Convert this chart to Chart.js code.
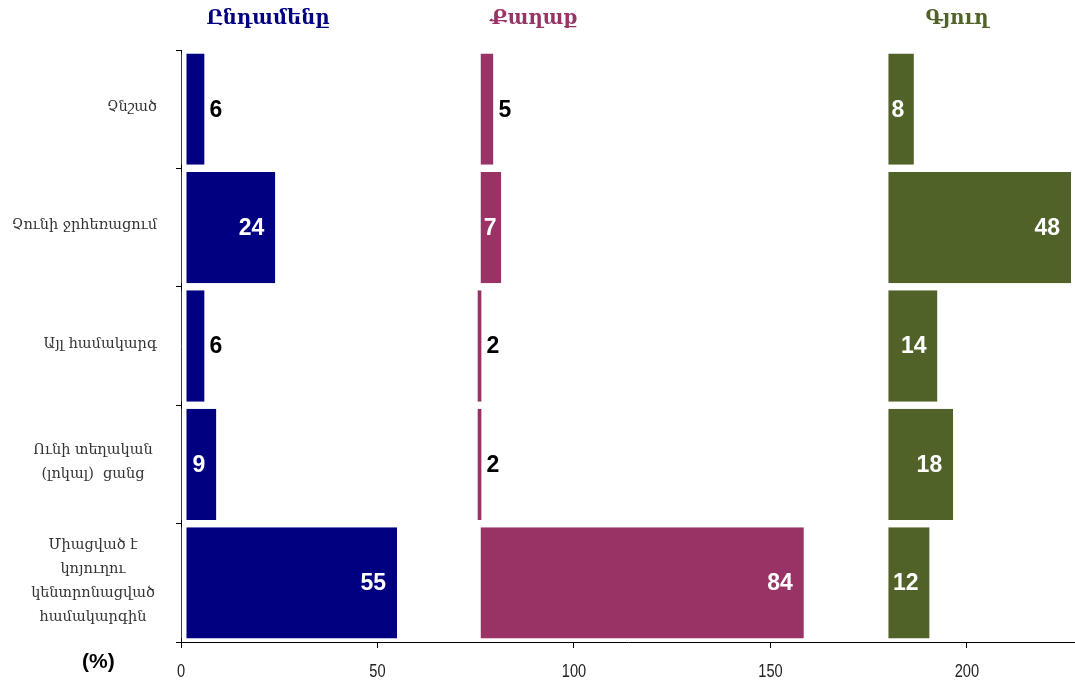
<!DOCTYPE html>
<html>
<head>
<meta charset="utf-8">
<script src="https://cdn.jsdelivr.net/npm/chart.js@4.4.1/dist/chart.umd.min.js"></script>
<style>
  html, body { margin: 0; padding: 0; background: #fff; overflow: hidden; }
  #wrap { width: 1075px; height: 682px; position: relative; }
</style>
</head>
<body>
<div id="wrap"><canvas id="c"></canvas></div>
<script>
// ---- data ----
const categories = [
  ["Չնշած"],
  ["Չունի ջրհեռացում"],
  ["Այլ համակարգ"],
  ["Ունի տեղական", "(լոկալ)  ցանց"],
  ["Միացված է", "կոյուղու", "կենտրոնացված", "համակարգին"]
];
const totalValues = [6, 24, 6, 9, 55];
const cityValues  = [5, 7, 2, 2, 84];
const ruralValues = [8, 48, 14, 18, 12];
const groupTitles = ["Ընդամենը", "Քաղաք", "Գյուղ"];
const xTickValues = [0, 50, 100, 150, 200];
const unitLabel = "(%)";

// panel offsets (axis units) where the city / rural panels start
const cityBase = 74.5;
const ruralBase = 178.5;

const colors = { total: "#000080", city: "#993366", rural: "#506228" };

const spacer1 = totalValues.map(v => cityBase - v);
const spacer2 = cityValues.map(v => ruralBase - cityBase - v);

const barCommon = {
  borderColor: "#ffffff",
  borderSkipped: false,
  barPercentage: 0.94,
  categoryPercentage: 1.0
};

const labelsPlugin = {
  id: "customText",
  afterDraw(chart) {
    const ctx = chart.ctx;
    const yScale = chart.scales.y;
    const xScale = chart.scales.x;
    ctx.save();
    // group titles
    const titleX = [268, 534, 957];
    const titleColors = [colors.total, colors.city, colors.rural];
    ctx.font = "bold 19.5px 'DejaVu Serif'";
    ctx.textAlign = "center";
    ctx.textBaseline = "middle";
    groupTitles.forEach((t, i) => {
      ctx.fillStyle = titleColors[i];
      ctx.fillText(t, titleX[i], 19);
    });
    // category labels
    ctx.fillStyle = "#333333";
    ctx.font = "14.5px 'DejaVu Serif'";
    const lh = 24;
    categories.forEach((lines, i) => {
      const cy = yScale.getPixelForValue(i);
      const n = lines.length;
      lines.forEach((ln, k) => {
        const y = cy + (k - (n - 1) / 2) * lh;
        if (n === 1) { ctx.textAlign = "right"; ctx.fillText(ln, 157, y - 2); }
        else { ctx.textAlign = "center"; ctx.fillText(ln, 93, y - 2); }
      });
    });
    // x tick labels (condensed)
    ctx.fillStyle = "#222";
    ctx.font = "19px 'Liberation Sans'";
    ctx.textAlign = "center";
    ctx.textBaseline = "middle";
    xTickValues.forEach(v => {
      const px = xScale.getPixelForValue(v);
      ctx.save();
      ctx.translate(px, 671.5);
      ctx.scale(0.77, 1);
      ctx.fillText(String(v), 0, 0);
      ctx.restore();
    });
    // unit label
    ctx.fillStyle = "#000";
    ctx.font = "bold 21px 'Liberation Sans'";
    ctx.textAlign = "left";
    ctx.textBaseline = "middle";
    ctx.fillText(unitLabel, 82, 662);
    // data labels
    ctx.font = "bold 23px 'Liberation Sans'";
    ctx.textBaseline = "middle";
    ctx.textAlign = "left";
    [0, 2, 4].forEach(di => {
      const meta = chart.getDatasetMeta(di);
      const ds = chart.data.datasets[di];
      const gap = ds.borderWidth.left;
      meta.data.forEach((el, i) => {
        const txt = String(ds.data[i]);
        const tw = ctx.measureText(txt).width;
        const start = Math.min(el.x, el.base) + gap;
        const end = Math.max(el.x, el.base);
        const w = end - start;
        let x, col;
        if (w >= 20) {
          col = "#ffffff";
          x = Math.max(end - 11 - tw, start + 3);
        } else {
          col = "#000000";
          x = end + 5;
        }
        ctx.fillStyle = col;
        ctx.fillText(txt, x, el.y + 1);
      });
    });
    ctx.restore();
  }
};

new Chart(document.getElementById("c"), {
  type: "bar",
  data: {
    labels: categories.map(c => c.join(" ")),
    datasets: [
      Object.assign({ label: groupTitles[0], data: totalValues, backgroundColor: colors.total, borderWidth: { left: 5, right: 0, top: 0, bottom: 0 } }, barCommon),
      Object.assign({ label: "s1", data: spacer1, backgroundColor: "rgba(0,0,0,0)", borderWidth: 0 }, barCommon),
      Object.assign({ label: groupTitles[1], data: cityValues, backgroundColor: colors.city, borderWidth: { left: 7, right: 0, top: 0, bottom: 0 } }, barCommon),
      Object.assign({ label: "s2", data: spacer2, backgroundColor: "rgba(0,0,0,0)", borderWidth: 0 }, barCommon),
      Object.assign({ label: groupTitles[2], data: ruralValues, backgroundColor: colors.rural, borderWidth: { left: 6, right: 0, top: 0, bottom: 0 } }, barCommon)
    ]
  },
  options: {
    indexAxis: "y",
    responsive: true,
    maintainAspectRatio: false,
    animation: false,
    layout: { padding: { top: 50, left: 0, right: 0, bottom: 0 } },
    plugins: { legend: { display: false }, tooltip: { enabled: false } },
    scales: {
      x: {
        stacked: true,
        min: 0,
        max: 227.5,
        afterBuildTicks(scale) { scale.ticks = xTickValues.map(v => ({ value: v })); },
        afterFit(scale) { scale.height = 40; },
        grid: { display: true, drawOnChartArea: false, drawTicks: true, tickLength: 6, color: "#000", lineWidth: 1 },
        border: { display: true, color: "#000", width: 1 },
        ticks: { display: false }
      },
      y: {
        stacked: true,
        afterFit(scale) { scale.width = 181; },
        grid: { display: true, offset: true, drawOnChartArea: false, drawTicks: true, tickLength: 5, color: "#000", lineWidth: 1 },
        border: { display: true, color: "#000", width: 1 },
        ticks: { display: false }
      }
    }
  },
  plugins: [labelsPlugin]
});
</script>
</body>
</html>
